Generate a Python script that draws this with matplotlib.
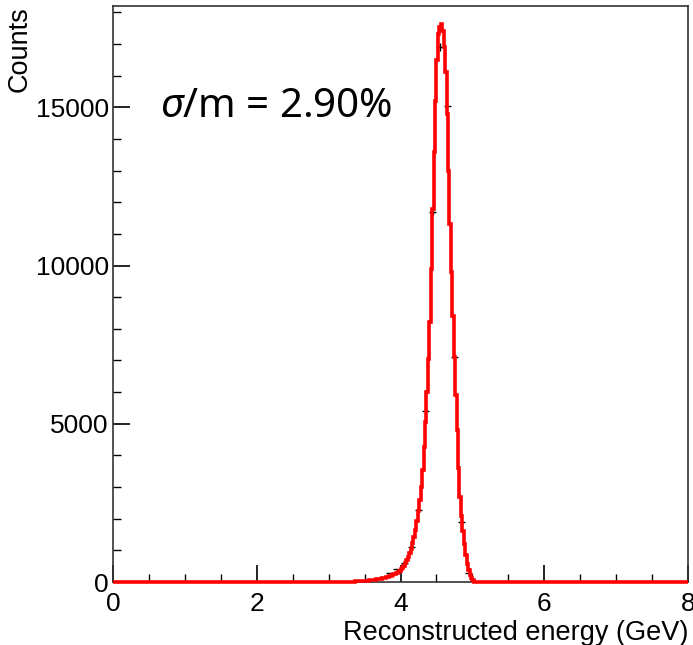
import numpy as np
import matplotlib
matplotlib.use("Agg")
import matplotlib.pyplot as plt

plt.rcParams["font.family"] = ["Liberation Sans", "DejaVu Sans"]
plt.rcParams["mathtext.fontset"] = "custom"
plt.rcParams["mathtext.rm"] = "Noto Sans"
plt.rcParams["mathtext.it"] = "Noto Sans:italic"

# fitted shape, fine bins of 0.02 GeV starting at 3.20 GeV
fit_start = 3.20
fit_width = 0.02
fit_counts = [0, 0, 0, 3, 6, 9, 12, 15, 18, 21,
              24, 27, 30, 33, 36, 39, 42, 46, 50, 55,
              60, 66, 72, 80, 88, 96, 105, 115, 126, 138,
              150, 165, 180, 198, 218, 240, 265, 292, 325, 362,
              405, 455, 515, 590, 680, 790, 910, 1050, 1220, 1420,
              1650, 1920, 2230, 2580, 3000, 3550, 4250, 5050, 6000, 7050,
              8200, 9900, 11800, 13600, 15200, 16500, 17300, 17550, 17620, 17400,
              16900, 16100, 14800, 13000, 11300, 9800, 8400, 7100, 5900, 4800,
              3600, 2700, 2100, 1600, 1200, 850, 560, 370, 230, 130,
              50, 10, 0]

# measured histogram, 0.1 GeV bins
data_x = [3.75, 3.85, 3.95, 4.05, 4.15, 4.25, 4.35, 4.45, 4.55, 4.65,
          4.75, 4.85, 4.95]
data_y = [150, 280, 400, 600, 1120, 2280, 5410, 11700, 16900, 15030,
          7120, 1900, 290]

x_ticks = [0, 2, 4, 6, 8]
y_ticks = [0, 5000, 10000, 15000]

# full red histogram over 0-8 GeV
edges = np.round(np.arange(0, 8.0001, fit_width), 4)
vals = np.zeros(len(edges) - 1)
i0 = int(round(fit_start / fit_width))
vals[i0:i0 + len(fit_counts)] = fit_counts

fig = plt.figure(figsize=(6.93, 6.45), dpi=100)
ax = fig.add_axes([113 / 693, 1 - 582 / 645, 575 / 693, 576 / 645])

ax.stairs(vals, edges, color="red", lw=2.6, baseline=None, zorder=3,
          clip_on=False)
ax.errorbar(data_x, data_y, xerr=0.05, yerr=np.sqrt(data_y), fmt="none",
            ecolor="black", elinewidth=1.0, capsize=0, zorder=2)

ax.set_xlim(0, 8)
ax.set_ylim(0, 18200)
ax.set_xticks(x_ticks)
ax.set_yticks(y_ticks)
ax.set_xticks(np.arange(0, 8.01, 0.5), minor=True)
ax.set_yticks(np.arange(0, 18001, 1000), minor=True)
ax.tick_params(which="both", direction="in", top=False, right=False,
               labelsize=19, colors="black")
ax.tick_params(which="major", length=12, width=1.2)
ax.tick_params(which="minor", length=6, width=1.0)
ax.tick_params(axis="x", pad=7)
ax.tick_params(axis="y", pad=3)
for s in ax.spines.values():
    s.set_linewidth(1.2)
    s.set_color("#333333")

ax.set_xlabel("Reconstructed energy (GeV)", fontsize=19.5, loc="right", labelpad=3)
ax.set_ylabel("Counts", fontsize=19.5, loc="top", labelpad=2)

ax.text(0.65, 15000, r"$\sigma$/m = 2.90%", family="Noto Sans", fontsize=29,
        va="center", ha="left")

fig.savefig("out.png", dpi=100)
